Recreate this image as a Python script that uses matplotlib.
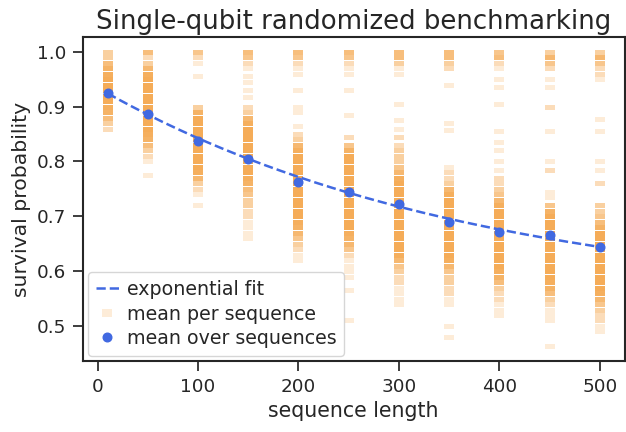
import numpy as np
import matplotlib.pyplot as plt
import seaborn as sns
from matplotlib.path import Path
from matplotlib.lines import Line2D

#----------
# Data
lengths = [10, 50, 100, 150, 200, 250, 300, 350, 400, 450, 500]

# per-sequence survival levels and how many sequences sit at each level
lv10 = [1.00, .99, .98, .97, .96, .95, .94, .93, .92, .91, .90, .89, .88, .87, .86]
ct10 = [3, 3, 5, 7, 8, 9, 9, 9, 9, 9, 8, 7, 5, 3, 2]

lv50 = [1.00, .99, .98, .97, .96, .95, .94, .93, .92, .91, .90, .89, .88, .87, .86,
        .85, .84, .83, .82, .81, .80, .775]
ct50 = [5, 2, 3, 6, 8, 9, 9, 9, 9, 9, 9, 9, 9, 9, 9, 8, 7, 5, 3, 2, 1, 1]

lv100 = [1.00, .99, .98, .955, .90, .89, .88, .87, .86, .85, .84, .83, .82, .81, .80,
         .79, .78, .77, .76, .75, .74, .72]
ct100 = [4, 2, 1, 1, 3, 7, 9, 9, 9, 9, 9, 9, 9, 9, 9, 9, 8, 6, 3, 2, 1, 1]

lv150 = [1.00, .99, .98, .97, .955, .945, .93, .918, .90, .89, .88, .87, .86, .85, .84,
         .83, .82, .81, .80, .79, .78, .77, .76, .75, .74, .73, .72, .71, .70, .69,
         .68, .67, .66]
ct150 = [5, 4, 2, 1, 1, 1, 1, 1, 2, 3, 6, 8, 9, 9, 9, 9, 9, 9, 9, 9, 9, 8, 7, 5, 4,
         3, 3, 2, 2, 1, 1, 1, 1]

lv200 = [1.00, .99, .98, .97, .96, .93, .90, .89, .865, .85, .84, .83, .82, .81, .80,
         .79, .78, .77, .76, .75, .74, .73, .72, .71, .70, .69, .68, .67, .66, .65,
         .64, .63, .62]
ct200 = [5, 4, 2, 1, 1, 1, 1, 1, 1, 2, 3, 6, 8, 9, 9, 9, 9, 9, 9, 9, 9, 9, 9, 9, 9,
         8, 7, 6, 4, 3, 2, 1, 1]

lv250 = [1.00, .99, .98, .97, .96, .93, .885, .845, .83, .82, .81, .80, .79, .78, .77,
         .76, .75, .74, .73, .72, .71, .70, .69, .68, .67, .66, .65, .64, .63, .62,
         .61, .60, .59, .565, .51]
ct250 = [5, 4, 2, 1, 1, 1, 1, 2, 4, 7, 9, 9, 9, 9, 9, 9, 9, 9, 9, 9, 9, 9, 9, 9, 8,
         7, 6, 4, 2, 1, 1, 1, 1, 1, 1]

lv300 = [1.00, .99, .98, .97, .96, .905, .875, .86, .845, .83, .82, .81, .80, .79, .78,
         .77, .76, .75, .74, .73, .72, .71, .70, .69, .68, .67, .66, .65, .64, .63,
         .62, .61, .60, .59, .58, .57, .56, .55, .54]
ct300 = [5, 5, 3, 1, 1, 1, 1, 1, 2, 2, 3, 3, 3, 4, 6, 8, 9, 9, 9, 9, 9, 9, 9, 9, 9,
         9, 9, 9, 9, 8, 6, 4, 3, 2, 2, 1, 1, 1, 1]

lv350 = [1.00, .99, .98, .97, .94, .87, .857, .79, .78, .77, .76, .75, .74, .73, .72,
         .71, .70, .69, .68, .67, .66, .65, .64, .63, .62, .61, .60, .59, .58, .57,
         .56, .55, .54, .50, .48]
ct350 = [5, 5, 3, 2, 1, 1, 1, 1, 2, 2, 3, 6, 8, 9, 9, 9, 9, 9, 9, 9, 9, 9, 9, 9, 8,
         6, 4, 3, 3, 2, 2, 1, 1, 1, 1]

lv400 = [1.00, .99, .98, .97, .95, .935, .905, .855, .835, .82, .80, .785, .77, .76, .75,
         .74, .73, .72, .71, .70, .69, .68, .67, .66, .65, .64, .63, .62, .61, .60,
         .59, .58, .57, .56, .55, .54, .53, .52]
ct400 = [4, 5, 2, 1, 1, 1, 1, 1, 1, 1, 1, 1, 2, 2, 3, 4, 6, 8, 9, 9, 9, 9, 9, 9, 9,
         9, 9, 9, 9, 8, 7, 5, 3, 2, 2, 1, 1, 1]

lv450 = [1.00, .99, .98, .97, .95, .935, .90, .855, .80, .785, .745, .735, .72, .71, .70,
         .69, .68, .67, .66, .65, .64, .63, .62, .61, .60, .59, .58, .57, .56, .55,
         .54, .53, .52, .51, .463]
ct450 = [3, 6, 4, 2, 1, 1, 2, 1, 1, 2, 1, 1, 4, 7, 9, 9, 9, 9, 9, 9, 9, 9, 9, 9, 9,
         9, 8, 7, 5, 3, 2, 1, 1, 1, 1]

lv500 = [1.00, .99, .98, .97, .96, .95, .877, .855, .80, .785, .76, .72, .71, .70, .69,
         .68, .67, .66, .65, .64, .63, .62, .61, .60, .59, .58, .57, .56, .55, .54,
         .53, .52, .51, .50, .49]
ct500 = [3, 6, 4, 2, 2, 1, 1, 1, 1, 1, 2, 3, 3, 4, 5, 7, 9, 9, 9, 9, 9, 9, 9, 9, 9,
         9, 9, 8, 6, 4, 3, 2, 2, 1, 1]

seq_levels = [lv10, lv50, lv100, lv150, lv200, lv250, lv300, lv350, lv400, lv450, lv500]
seq_counts = [ct10, ct50, ct100, ct150, ct200, ct250, ct300, ct350, ct400, ct450, ct500]

mean_surv = [0.924, 0.886, 0.838, 0.805, 0.763, 0.744, 0.723, 0.689, 0.671, 0.666, 0.644]

# exponential fit A * p**m + B
fit_A = 0.3951
fit_p = 0.99735
fit_B = 0.5393
#----------

sns.set_theme(style='ticks', context='notebook')

orange = '#f5a040'
blue = 'royalblue'

fig = plt.figure(figsize=(6.26, 4.32), dpi=100)
ax = fig.add_axes([83 / 626, 71 / 432, 541.5 / 626, 324 / 432])

# wide flat marker for the single sequences
bar = Path([(-1, -0.5), (1, -0.5), (1, 0.5), (-1, 0.5), (-1, -0.5)], closed=True)
box = Path([(-1, -0.78), (1, -0.78), (1, 0.78), (-1, 0.78), (-1, -0.78)], closed=True)

for L, lv, ct in zip(lengths, seq_levels, seq_counts):
    y = np.repeat(lv, ct)
    ax.plot(np.full(len(y), L), y, ls='none', marker=bar, ms=7.2, mew=0,
            color=orange, alpha=0.2, zorder=1)

m = np.linspace(lengths[0], lengths[-1], 200)
ax.plot(m, fit_A * fit_p ** m + fit_B, ls='--', lw=1.8, color=blue, zorder=2)
ax.plot(lengths, mean_surv, ls='none', marker='o', ms=6.2, color=blue, zorder=3)

handles = [
    Line2D([], [], ls='--', lw=1.8, color=blue),
    Line2D([], [], ls='none', marker=box, ms=6.5, mew=0, color=orange, alpha=0.2),
    Line2D([], [], ls='none', marker='o', ms=6.2, color=blue),
]
ax.legend(handles, ['exponential fit', 'mean per sequence', 'mean over sequences'],
          loc='lower left', fontsize=13.7, handlelength=1.2, handletextpad=0.42,
          labelspacing=0.29, borderaxespad=0.28)

ax.set_xticks([0, 100, 200, 300, 400, 500])
ax.set_yticks([0.5, 0.6, 0.7, 0.8, 0.9, 1.0])
ax.tick_params(labelsize=13.2, length=7, width=1.25, pad=5)
for s in ax.spines.values():
    s.set_linewidth(1.5)
ax.set_xlabel('sequence length', fontsize=14.8)
ax.set_ylabel('survival probability', fontsize=14.7)
ax.set_title('Single-qubit randomized benchmarking', fontsize=18.7)

fig.savefig('out.png', dpi=100)
